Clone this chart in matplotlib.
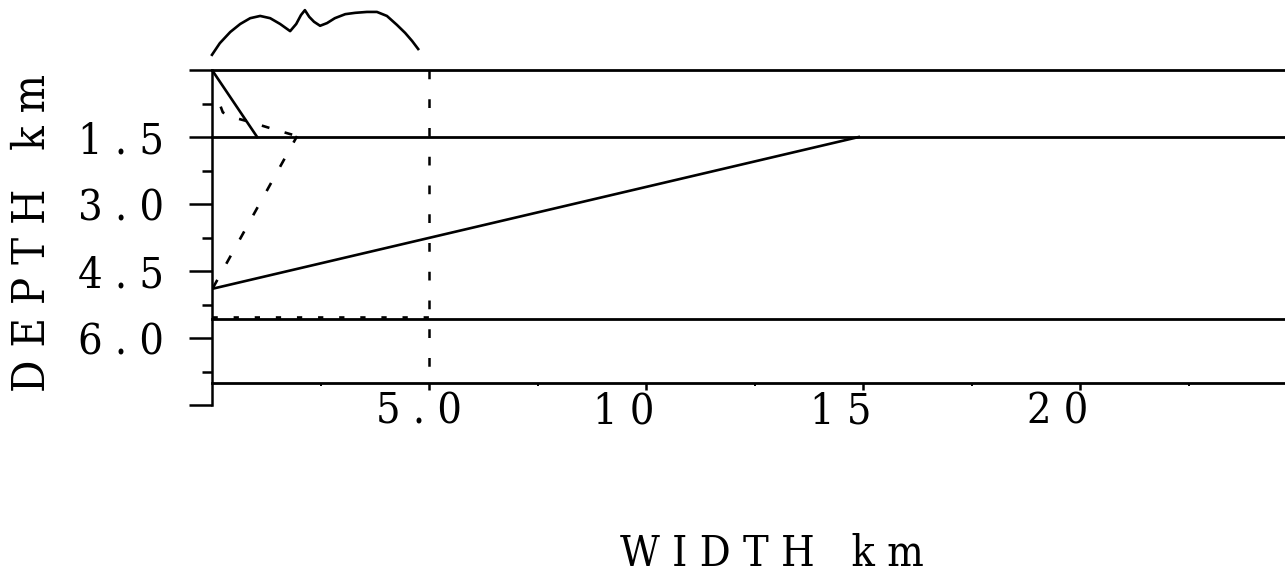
import numpy as np
import matplotlib
matplotlib.use("Agg")
import matplotlib.pyplot as plt
import matplotlib.transforms as mtransforms

# layer boundaries (km depth), drawn across the whole width
boundary_depths = [0.0, 1.5, 5.57]
base_depth = 7.0

# solid interfaces: (x km, depth km)
wedge_x = [0.0, 1.04]
wedge_z = [0.0, 1.5]
ramp_x = [0.0, 14.9]
ramp_z = [4.9, 1.5]

# dashed interfaces
curve_x = [0.2, 0.25, 0.45, 0.9, 1.4, 1.96]
curve_z = [0.82, 0.95, 1.05, 1.17, 1.32, 1.48]
steep_x = [0.02, 1.96]
steep_z = [4.88, 1.48]
flat_x = [0.0, 5.0]
flat_z = [5.52, 5.52]
cut_x = 5.0

# surface topography above the section (km)
topo_x = [0.0, 0.18, 0.42, 0.65, 0.88, 1.11, 1.34, 1.57, 1.80, 1.94, 2.05,
          2.14, 2.24, 2.35, 2.49, 2.65, 2.83, 3.07, 3.30, 3.57, 3.80, 4.03,
          4.26, 4.45, 4.61, 4.75]
topo_h = [0.34, 0.60, 0.85, 1.03, 1.16, 1.21, 1.16, 1.03, 0.87, 1.03, 1.23,
          1.34, 1.19, 1.08, 0.99, 1.05, 1.16, 1.25, 1.28, 1.30, 1.30, 1.21,
          1.01, 0.83, 0.65, 0.47]

xticks = [5, 10, 15, 20]
xlabels = ['5 . 0', '1 0', '1 5', '2 0']
yticks = [0, 1.5, 3.0, 4.5, 6.0, 7.5]
ylabels = ['', '1 . 5', '3 . 0', '4 . 5', '6 . 0', '']

font = dict(fontfamily='DejaVu Serif', fontstretch='condensed')

fig = plt.figure(figsize=(12.85, 5.8), dpi=100)
ax = fig.add_axes([212 / 1285, 1 - 405 / 580, 1073 / 1285, 335 / 580])
ax.set_xlim(0, 24.72)
ax.set_ylim(7.5, 0)

for d in boundary_depths:
    ax.plot([0, 24.72], [d, d], color='k', lw=2.0, clip_on=False)

ax.plot(wedge_x, wedge_z, color='k', lw=1.9)
ax.plot(ramp_x, ramp_z, color='k', lw=1.9)

ax.plot(curve_x, curve_z, color='k', lw=1.9, ls=(0, (3, 6)))
ax.plot(steep_x, steep_z, color='k', lw=1.9, ls=(0, (3.5, 7)))
ax.plot(flat_x, flat_z, color='k', lw=1.9, ls=(0, (2, 6)))
ax.plot([cut_x, cut_x], [0, base_depth], color='k', lw=1.8, ls=(0, (3.5, 8)))

ax.plot(topo_x, [-h for h in topo_h], color='k', lw=1.9, clip_on=False)

for s in ['top', 'right']:
    ax.spines[s].set_visible(False)
ax.spines['bottom'].set_position(('data', base_depth))
ax.spines['bottom'].set_linewidth(2.0)
ax.spines['left'].set_linewidth(1.8)

ax.set_yticks(yticks)
ax.set_yticklabels(ylabels, fontsize=31, **font)
ax.set_yticks(np.arange(0.75, 7.5, 1.5), minor=True)
ax.tick_params(axis='y', which='major', direction='out', length=16.5, width=1.8, pad=18)
ax.tick_params(axis='y', which='minor', direction='out', length=7, width=1.8)

ax.set_xticks(xticks)
ax.set_xticklabels(xlabels, fontsize=31, **font)
ax.set_xticks([2.5, 7.5, 12.5, 17.5, 22.5], minor=True)
ax.tick_params(axis='x', which='major', direction='out', length=5, width=1.8, pad=1)
ax.tick_params(axis='x', which='minor', direction='out', length=2.5, width=1.4)

shift = mtransforms.ScaledTranslation(-0.53, 0, fig.dpi_scale_trans)
for lab in ax.get_xticklabels():
    lab.set_horizontalalignment('left')
    lab.set_transform(lab.get_transform() + shift)

fig.text(772 / 1285, 1 - 554 / 580, 'W I D T H   k m', fontsize=31,
         ha='center', va='center', **font)
fig.text(32 / 1285, 1 - 233 / 580, 'D E P T H   k m', fontsize=32.5,
         rotation=90, ha='center', va='center', **font)

fig.savefig('out.png', dpi=100)
